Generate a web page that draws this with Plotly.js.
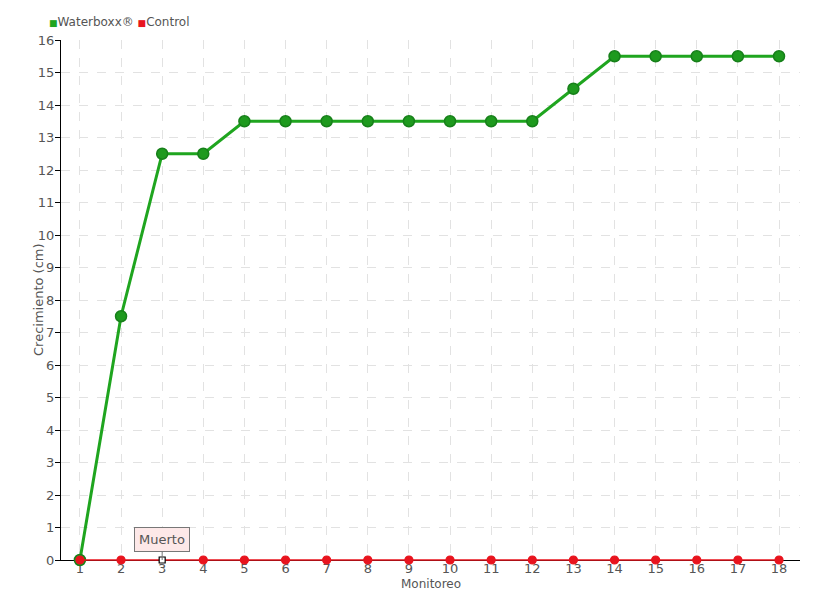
<!DOCTYPE html>
<html><head><meta charset="utf-8">
<script src="https://cdn.plot.ly/plotly-3.0.1.min.js"></script>
<style>body{margin:0;background:#fff}#c{width:820px;height:600px}</style>
</head><body><div id="c"></div>
<script>
var monitoreo = [1,2,3,4,5,6,7,8,9,10,11,12,13,14,15,16,17,18];
var waterboxx = [0,7.5,12.5,12.5,13.5,13.5,13.5,13.5,13.5,13.5,13.5,13.5,14.5,15.5,15.5,15.5,15.5,15.5];
var control   = [0,0,0,0,0,0,0,0,0,0,0,0,0,0,0,0,0,0];
var deadIndex = 2; // "Muerto" at monitoreo 3
var deadLabel = 'Muerto';
var seriesNames = ['Waterboxx®', 'Control'];
var xTitle = 'Monitoreo';
var yTitle = 'Crecimiento (cm)';
var yTicks = [0,1,2,3,4,5,6,7,8,9,10,11,12,13,14,15,16];

var FONT = '"DejaVu Sans", sans-serif';
var green = '#1fa51f', greenDark = '#17801a', red = '#e8141e';

var ctrlSym = control.map(function(v,i){return i===deadIndex?'square':'circle';});
var ctrlCol = control.map(function(v,i){return i===deadIndex?'#ffffff':red;});
var ctrlLine = control.map(function(v,i){return i===deadIndex?'#000000':red;});
var ctrlSize = control.map(function(v,i){return i===deadIndex?6:8;});

var traces = [
  {x:monitoreo, y:waterboxx, mode:'lines+markers', name:seriesNames[0], showlegend:false, hoverinfo:'skip',
   cliponaxis:false, line:{color:green, width:3},
   marker:{color:'#1e9a1e', size:11, line:{color:greenDark, width:1.5}}},
  {x:monitoreo, y:control, mode:'lines+markers', name:seriesNames[1], showlegend:false, hoverinfo:'skip',
   cliponaxis:false, line:{color:red, width:1.5},
   marker:{symbol:ctrlSym, color:ctrlCol, size:ctrlSize, opacity:1, line:{color:ctrlLine, width:1.2}}}
];

var layout = {
  width:820, height:600,
  margin:{l:61, r:20, t:40, b:40},
  paper_bgcolor:'#fff', plot_bgcolor:'#fff',
  font:{family:FONT, color:'#555', size:13},
  showlegend:false,
  xaxis:{range:[0.54,18.51], tickmode:'array', tickvals:monitoreo, ticktext:monitoreo.map(String),
         showgrid:true, gridcolor:'#e2e2e2', griddash:'dash', gridwidth:1,
         showline:true, linecolor:'#000', linewidth:1, ticks:'', zeroline:false, layer:'below traces',
         tickfont:{size:13, color:'#555'}, ticklabelstandoff:-4},
  yaxis:{range:[0,16], tickmode:'array', tickvals:yTicks,
         showgrid:true, gridcolor:'#e2e2e2', griddash:'dash', gridwidth:1,
         showline:true, linecolor:'#000', linewidth:1, ticks:'outside', ticklen:5, tickcolor:'#000',
         zeroline:false, layer:'below traces', tickfont:{size:13, color:'#555'}, ticklabelstandoff:-2},
  annotations:[
   {x:monitoreo[deadIndex], y:control[deadIndex], xref:'x', yref:'y', text:deadLabel,
    showarrow:true, arrowhead:0, arrowwidth:1, arrowcolor:'#777', ax:0, ay:-21,
    bgcolor:'#fde8e8', bordercolor:'#777', borderwidth:1, borderpad:4,
    font:{family:FONT, size:13, color:'#555'}},
   {xref:'paper', yref:'paper', x:-0.019, y:1.023, yshift:-3, xanchor:'left', yanchor:'bottom', showarrow:false,
    text:'<span style="color:'+green+';font-size:9px">■</span>'+seriesNames[0]+' <span style="color:'+red+';font-size:9px">■</span>'+seriesNames[1],
    font:{family:FONT, size:12, color:'#555'}},
   {xref:'paper', yref:'paper', x:(38-61)/739, y:0.5, textangle:-90, showarrow:false,
    xanchor:'center', yanchor:'middle', text:yTitle, font:{family:FONT, size:13, color:'#555'}},
   {xref:'paper', yref:'paper', x:0.5, y:-24/520, xanchor:'center', yanchor:'middle', showarrow:false,
    text:xTitle, font:{family:FONT, size:12, color:'#555'}}
  ]
};
var gd = document.getElementById('c');
Plotly.newPlot(gd, traces, layout, {displayModeBar:false, staticPlot:true}).then(function(){
  // let the series lines lying on the axis show fully (not clipped at the plot edge)
  gd.querySelectorAll('.scatterlayer .trace path.js-line').forEach(function(p){ p.removeAttribute('clip-path'); });
  gd.querySelectorAll('.scatterlayer .trace .lines').forEach(function(g){ g.removeAttribute('clip-path'); });
});
</script></body></html>
